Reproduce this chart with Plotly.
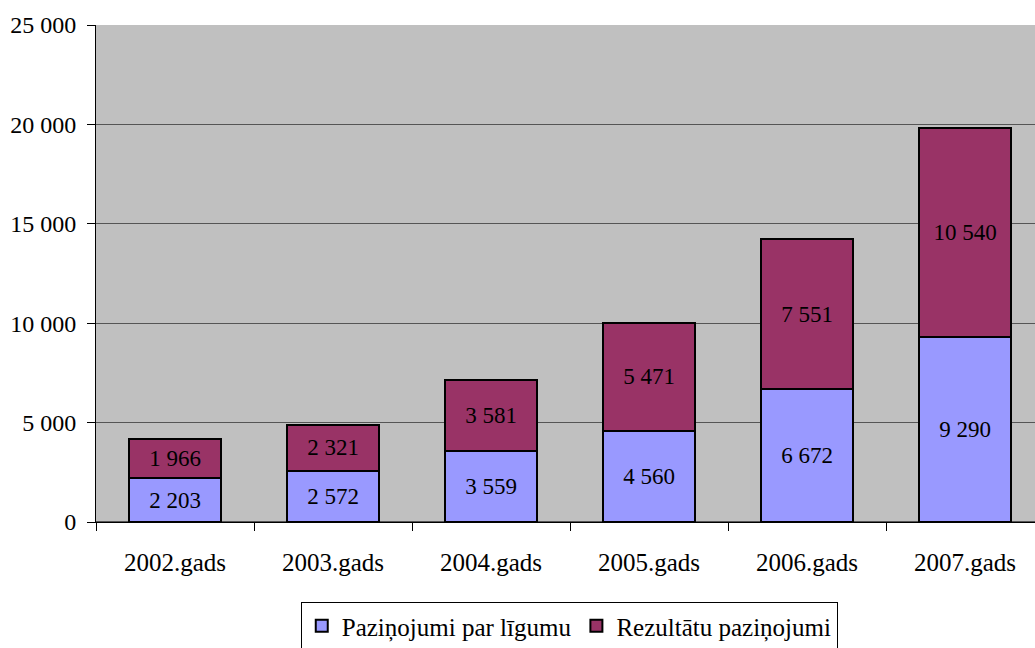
import plotly.graph_objects as go

categories = ["2002.gads", "2003.gads", "2004.gads", "2005.gads", "2006.gads", "2007.gads"]
pazinojumi_par_ligumu = [2203, 2572, 3559, 4560, 6672, 9290]
rezultatu_pazinojumi = [1966, 2321, 3581, 5471, 7551, 10540]
series_names = ["Paziņojumi par līgumu", "Rezultātu paziņojumi"]
y_ticks = [0, 5000, 10000, 15000, 20000, 25000]

FONT = "Liberation Serif, Times New Roman, serif"
FS = 23
W, H = 1035, 648

fig = go.Figure()
fig.add_trace(go.Bar(
    x=categories, y=pazinojumi_par_ligumu, name=series_names[0],
    marker=dict(color="#9999FF", line=dict(color="black", width=2)),
    texttemplate="%{y:,}", textposition="inside", insidetextanchor="middle",
    textfont=dict(family=FONT, size=FS, color="black"), width=0.58,
))
fig.add_trace(go.Bar(
    x=categories, y=rezultatu_pazinojumi, name=series_names[1],
    marker=dict(color="#993366", line=dict(color="black", width=2)),
    texttemplate="%{y:,}", textposition="inside", insidetextanchor="middle",
    textfont=dict(family=FONT, size=FS, color="black"), width=0.58,
))

fig.update_layout(
    barmode="stack",
    width=W, height=H,
    margin=dict(l=96, r=0, t=25, b=H - 522, autoexpand=False),
    plot_bgcolor="#C0C0C0", paper_bgcolor="white",
    separators=". ",
    font=dict(family=FONT, size=FS, color="black"),
    uniformtext=dict(mode="show", minsize=FS),
    legend=dict(
        orientation="h", x=0.504, xanchor="center",
        yref="container", y=1 - 602 / H, yanchor="top",
        bordercolor="black", borderwidth=1, bgcolor="white",
        font=dict(family=FONT, size=25, color="black"),
        traceorder="normal", itemwidth=30,
    ),
    showlegend=True,
)
fig.update_xaxes(
    range=[-0.5, 5.5 - 9 / 158], showgrid=False, showline=True, linecolor="black", linewidth=1,
    ticks="outside", tickson="boundaries", ticklen=8, tickcolor="black",
    ticklabelstandoff=18, tickfont=dict(family=FONT, size=25, color="black"),
    automargin=False,
)
fig.update_yaxes(
    range=[0, 25000], tickvals=y_ticks, tickformat=",",
    showgrid=True, gridcolor="#555555", gridwidth=1,
    showline=True, linecolor="black", linewidth=1,
    ticks="outside", ticklen=8, tickcolor="black",
    ticklabelstandoff=6, tickfont=dict(family=FONT, size=24, color="black"),
    zeroline=True, zerolinecolor="#555555", automargin=False,
)

fig.write_html(
    "out.html",
    config={"displayModeBar": False},
    post_script="document.body.style.margin='0';document.body.style.overflow='hidden';",
)
